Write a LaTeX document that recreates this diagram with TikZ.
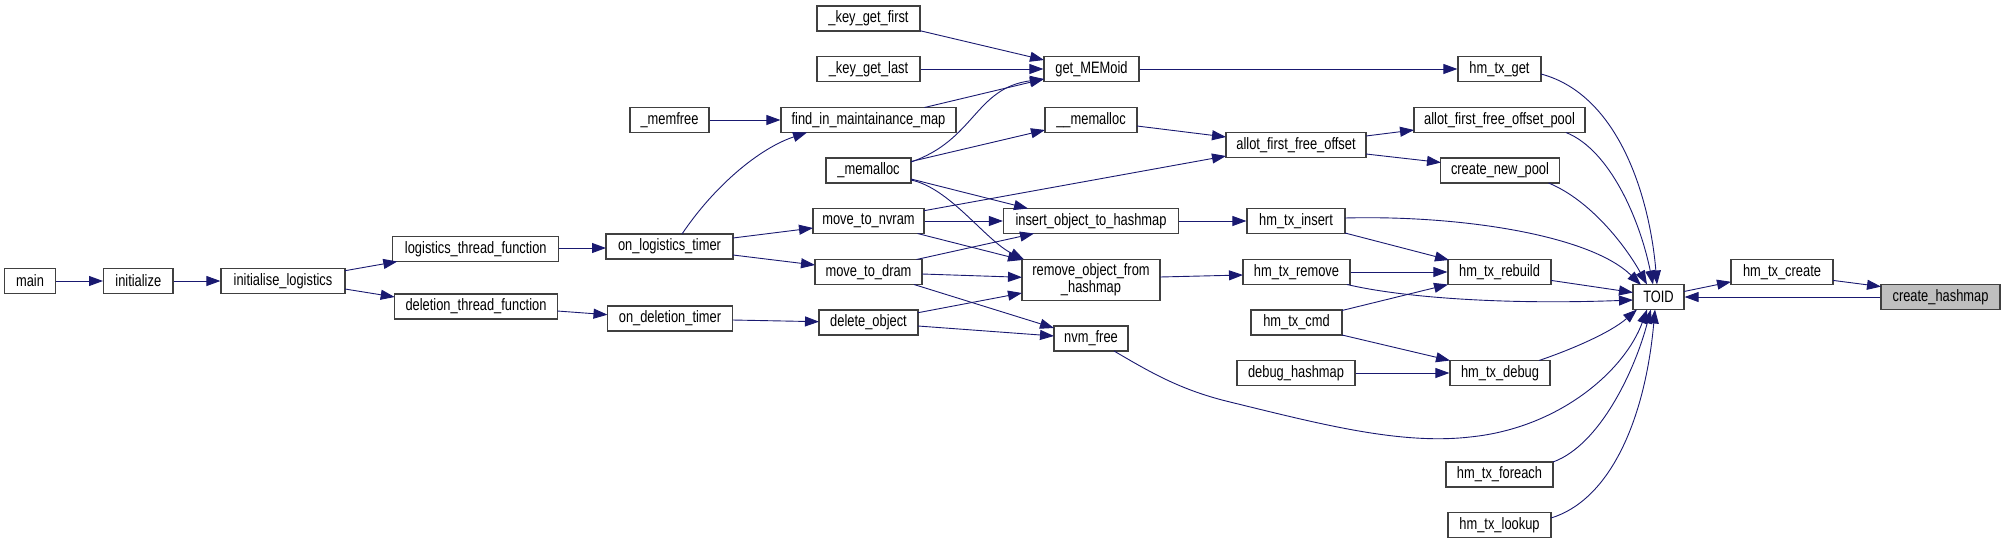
\documentclass[tikz,border=0pt]{standalone}
\usepackage{fontspec}
\setmainfont{Liberation Sans}[FakeStretch=0.78]
\usetikzlibrary{arrows.meta,calc}
\definecolor{edgec}{HTML}{191970}
\definecolor{boxc}{HTML}{404040}
\definecolor{hlc}{HTML}{BFBFBF}
\newcommand{\nodefnt}{\fontsize{16.5}{17}\selectfont}
\tikzset{
  fnbox/.style={draw=boxc, fill=white, line width=1.2pt, minimum height=25pt, inner sep=0pt, font=\nodefnt},
  calledge/.style={draw=edgec, line width=0.9pt, -{Triangle[length=14pt,width=10pt]}}
}
\begin{document}
\begin{tikzpicture}[x=1pt,y=-1pt]
\useasboundingbox (0,0) rectangle (2005,544);
% nodes
\node[fnbox, minimum width=51.5pt] (main) at (30,281) {main};
\node[fnbox, minimum width=69.4pt] (initz) at (138.3,281) {initialize};
\node[fnbox, minimum width=124pt] (il) at (283,281) {initialise\_logistics};
\node[fnbox, minimum width=166pt] (ltf) at (475.8,249) {logistics\_thread\_function};
\node[fnbox, minimum width=162.6pt] (dtf) at (476,306.5) {deletion\_thread\_function};
\node[fnbox, minimum width=127pt] (olt) at (669.5,246.5) {on\_logistics\_timer};
\node[fnbox, minimum width=125pt] (odt) at (670,318.5) {on\_deletion\_timer};
\node[fnbox, minimum width=79pt] (memfree) at (669.5,120) {\_memfree};
\node[fnbox, minimum width=103pt] (kgf) at (868.5,18.4) {\_key\_get\_first};
\node[fnbox, minimum width=103pt] (kgl) at (868.5,69) {\_key\_get\_last};
\node[fnbox, minimum width=95pt] (getm) at (1091.5,69) {get\_MEMoid};
\node[fnbox, minimum width=175pt] (find) at (868.5,120) {find\_in\_maintainance\_map};
\node[fnbox, minimum width=92pt] (umal) at (1091,120) {\_\_memalloc};
\node[fnbox, minimum width=85pt] (mal) at (868.5,170.5) {\_memalloc};
\node[fnbox, minimum width=140pt] (allot) at (1296,145) {allot\_first\_free\_offset};
\node[fnbox, minimum width=111pt] (mtn) at (868.5,221) {move\_to\_nvram};
\node[fnbox, minimum width=175pt] (ins) at (1091,221) {insert\_object\_to\_hashmap};
\node[fnbox, minimum width=107pt] (mtd) at (868.5,272) {move\_to\_dram};
\node[fnbox, minimum width=138pt, minimum height=41pt, align=center] (rem) at (1091,280) {remove\_object\_from\\\_hashmap};
\node[fnbox, minimum width=99pt] (del) at (868.5,322.5) {delete\_object};
\node[fnbox, minimum width=74pt] (nvm) at (1091,338.5) {nvm\_free};
\node[fnbox, minimum width=98pt] (hins) at (1296,221) {hm\_tx\_insert};
\node[fnbox, minimum width=107pt] (hrem) at (1296.5,272) {hm\_tx\_remove};
\node[fnbox, minimum width=91pt] (hcmd) at (1296.5,322.5) {hm\_tx\_cmd};
\node[fnbox, minimum width=118pt] (dbg) at (1296,373) {debug\_hashmap};
\node[fnbox, minimum width=83pt] (hget) at (1499.5,69) {hm\_tx\_get};
\node[fnbox, minimum width=171pt] (pool) at (1499.5,120) {allot\_first\_free\_offset\_pool};
\node[fnbox, minimum width=118.5pt] (cnp) at (1500,170.5) {create\_new\_pool};
\node[fnbox, minimum width=103pt] (reb) at (1499.5,272) {hm\_tx\_rebuild};
\node[fnbox, minimum width=100pt] (hdbg) at (1500,373) {hm\_tx\_debug};
\node[fnbox, minimum width=107pt] (fe) at (1499.5,474.5) {hm\_tx\_foreach};
\node[fnbox, minimum width=103pt] (lk) at (1499.5,525) {hm\_tx\_lookup};
\node[fnbox, minimum width=51pt] (toid) at (1658.5,297) {TOID};
\node[fnbox, minimum width=102pt] (hcr) at (1782,272) {hm\_tx\_create};
\node[fnbox, minimum width=119pt, fill=hlc] (ch) at (1940.5,297) {create\_hashmap};
% edges
\draw[calledge] (main.east) -- (initz.west);
\draw[calledge] (initz.east) -- (il.west);
\draw[calledge] ($(il)+(62,-10.3)$) -- ($(ltf)+(-78.5,12.5)$);
\draw[calledge] ($(il)+(62,8)$) -- ($(dtf)+(-81.3,-9.5)$);
\draw[calledge] ($(ltf)+(83,-1)$) -- ($(olt)+(-63.5,1.5)$);
\draw[calledge] ($(dtf)+(81.3,4.5)$) -- ($(odt)+(-62.5,-3.8)$);
\draw[calledge] ($(olt)+(12.5,-12.5)$) .. controls (715,185) and (760,148) .. ($(find)+(-61.5,12.5)$);
\draw[calledge] (memfree.east) -- (find.west);
\draw[calledge] ($(find)+(56,-12.5)$) -- ($(getm)+(-47.5,10)$);
\draw[calledge] ($(kgf)+(51.5,12.3)$) -- ($(getm)+(-47.5,-9)$);
\draw[calledge] (kgl.east) -- (getm.west);
\draw[calledge] ($(mal)+(42.5,-8.5)$) .. controls (975,140) and (975,88) .. ($(getm)+(-47.5,10)$);
\draw[calledge] ($(mal)+(42.5,-9)$) -- ($(umal)+(-46,10)$);
\draw[calledge] ($(mal)+(42.5,8.5)$) -- ($(ins)+(-63,-12.5)$);
\draw[calledge] ($(mal)+(42.5,9.5)$) .. controls (950,188) and (985,240) .. ($(rem)+(-67,-20.5)$);
\draw[calledge] (getm.east) -- (hget.west);
\draw[calledge] ($(umal)+(46,6)$) -- ($(allot)+(-70,-8)$);
\draw[calledge] ($(mtn)+(55.5,-10.3)$) -- ($(allot)+(-70,11)$);
\draw[calledge] (mtn.east) -- (ins.west);
\draw[calledge] ($(mtn)+(49,12.5)$) -- ($(rem)+(-69,-20)$);
\draw[calledge] ($(olt)+(63.5,-8.5)$) -- ($(mtn)+(-55.5,7)$);
\draw[calledge] ($(olt)+(63.5,8.5)$) -- ($(mtd)+(-53.5,-7)$);
\draw[calledge] ($(mtd)+(48,-12.5)$) -- ($(ins)+(-57,12.5)$);
\draw[calledge] ($(mtd)+(53.5,2)$) -- ($(rem)+(-69,-2.7)$);
\draw[calledge] ($(mtd)+(45.5,12.5)$) -- ($(nvm)+(-37,-10.5)$);
\draw[calledge] ($(odt)+(62.5,1.5)$) -- ($(del)+(-49.5,-0.8)$);
\draw[calledge] ($(del)+(49.5,-9.8)$) -- ($(rem)+(-69,13)$);
\draw[calledge] ($(del)+(49.5,3.5)$) -- ($(nvm)+(-37,-2.5)$);
\draw[calledge] ($(nvm)+(23,12.5)$) .. controls (1150,372) and (1180,390) .. (1230,402)
   .. controls (1320,424) and (1400,445) .. (1470,437)
   .. controls (1560,428) and (1625,370) .. ($(toid)+(-11.5,12.5)$);
\draw[calledge] ($(allot)+(70,-9)$) -- ($(pool)+(-85.5,10)$);
\draw[calledge] ($(allot)+(70,9)$) -- ($(cnp)+(-59,-8)$);
\draw[calledge] (ins.east) -- (hins.west);
\draw[calledge] ($(rem)+(69,-3)$) -- ($(hrem)+(-53.5,3)$);
\draw[calledge] ($(hget)+(41.5,5)$) .. controls (1620,95) and (1650,200) .. ($(toid)+(-1.5,-12.5)$);
\draw[calledge] ($(pool)+(66.5,12.5)$) .. controls (1610,150) and (1640,220) .. ($(toid)+(-5.5,-12.5)$);
\draw[calledge] ($(cnp)+(48.5,12.5)$) .. controls (1590,200) and (1625,245) .. ($(toid)+(-11.5,-12.5)$);
\draw[calledge] ($(hins)+(49,-3)$) .. controls (1460,215) and (1590,235) .. ($(toid)+(-17.5,-12)$);
\draw[calledge] ($(hins)+(49,12)$) -- ($(reb)+(-50.5,-12)$);
\draw[calledge] (hrem.east) -- (reb.west);
\draw[calledge] ($(hrem)+(50.5,12.5)$) .. controls (1400,297) and (1500,305) .. ($(toid)+(-25.5,3)$);
\draw[calledge] ($(hcmd)+(45.5,-12)$) -- ($(reb)+(-51.5,12.5)$);
\draw[calledge] ($(hcmd)+(45.5,12.5)$) -- ($(hdbg)+(-50,-12.5)$);
\draw[calledge] (dbg.east) -- (hdbg.west);
\draw[calledge] ($(reb)+(51.5,8.4)$) -- ($(toid)+(-25.5,-4.5)$);
\draw[calledge] ($(hdbg)+(39,-12.5)$) .. controls (1570,350) and (1610,333) .. ($(toid)+(-21.5,12.5)$);
\draw[calledge] ($(fe)+(53.5,-12.5)$) .. controls (1600,445) and (1635,370) .. ($(toid)+(-7.7,12.5)$);
\draw[calledge] ($(lk)+(51.5,-7)$) .. controls (1610,500) and (1645,420) .. ($(toid)+(-3.5,12.5)$);
\draw[calledge] ($(toid)+(25.5,-5.5)$) -- ($(hcr)+(-51,9.8)$);
\draw[calledge] ($(hcr)+(51,8.4)$) -- ($(ch)+(-59.5,-10.4)$);
\draw[calledge] (ch.west) -- (toid.east);
\end{tikzpicture}
\end{document}
